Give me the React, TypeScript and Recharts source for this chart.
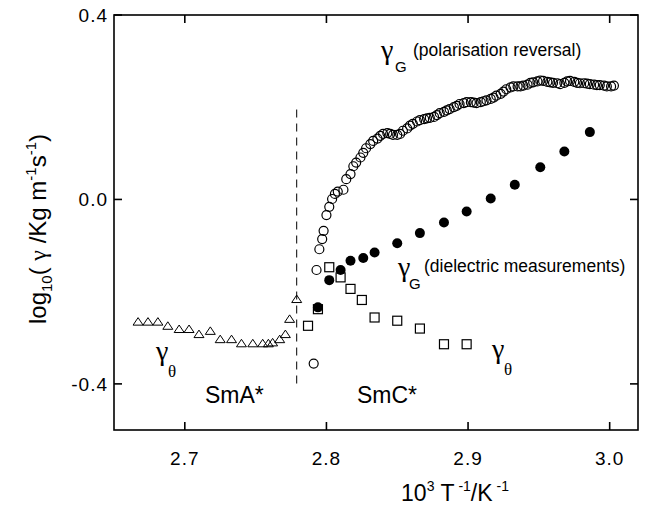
import React from 'react';
import {
  ScatterChart,
  Scatter,
  XAxis,
  YAxis,
  ReferenceLine
} from 'recharts';

// gamma_theta in the SmA* phase (open triangles)
const smaT = [2.667, 2.674, 2.681, 2.688, 2.696, 2.703, 2.710, 2.718, 2.725, 2.733, 2.740, 2.748, 2.755, 2.759, 2.762, 2.767, 2.771, 2.774, 2.779];
const smaGamma = [-0.265, -0.265, -0.265, -0.274, -0.281, -0.281, -0.292, -0.285, -0.303, -0.303, -0.312, -0.312, -0.312, -0.312, -0.310, -0.303, -0.292, -0.259, -0.216];

// gamma_theta in SmC* (open squares)
const thetaT = [2.787, 2.794, 2.802, 2.810, 2.817, 2.825, 2.834, 2.850, 2.866, 2.883, 2.899];
const thetaGamma = [-0.274, -0.238, -0.147, -0.169, -0.194, -0.218, -0.256, -0.263, -0.280, -0.314, -0.314];

// gamma_G, dielectric measurements (filled circles)
const dielT = [2.794, 2.802, 2.810, 2.817, 2.826, 2.834, 2.850, 2.866, 2.883, 2.899, 2.916, 2.933, 2.951, 2.968, 2.986];
const dielGamma = [-0.234, -0.175, -0.153, -0.133, -0.127, -0.115, -0.095, -0.073, -0.050, -0.026, 0.002, 0.032, 0.070, 0.104, 0.146];

// gamma_G, polarisation reversal (open circles)
const polT = [
  2.791, 2.793, 2.795, 2.797, 2.798, 2.800, 2.802, 2.804,
  2.806, 2.808, 2.812, 2.814, 2.817, 2.819, 2.821, 2.824, 2.826, 2.828,
  2.831, 2.833, 2.836, 2.838, 2.840, 2.843, 2.845, 2.847, 2.850, 2.852,
  2.854, 2.857, 2.859, 2.861, 2.864, 2.866, 2.869, 2.871, 2.873, 2.876,
  2.878, 2.880, 2.883, 2.885, 2.887, 2.890, 2.892, 2.894, 2.897, 2.899,
  2.902, 2.904, 2.906, 2.909, 2.911, 2.913, 2.916, 2.918, 2.920, 2.923,
  2.925, 2.927, 2.930, 2.932, 2.935, 2.937, 2.939, 2.942, 2.944, 2.946,
  2.949, 2.951, 2.953, 2.956, 2.958, 2.960, 2.963, 2.965, 2.968, 2.970,
  2.972, 2.975, 2.977, 2.979, 2.982, 2.984, 2.986, 2.989, 2.991, 2.993,
  2.996, 2.998, 3.001, 3.003
];
const polGamma = [
  -0.356, -0.153, -0.108, -0.086, -0.068, -0.034, -0.016, 0.001,
  0.012, 0.017, 0.021, 0.044, 0.055, 0.072, 0.080, 0.091, 0.101, 0.111,
  0.120, 0.127, 0.132, 0.138, 0.142, 0.144, 0.142, 0.140, 0.140, 0.142,
  0.149, 0.154, 0.160, 0.164, 0.169, 0.172, 0.174, 0.176, 0.177, 0.179,
  0.183, 0.187, 0.190, 0.193, 0.196, 0.200, 0.203, 0.207, 0.209, 0.211,
  0.211, 0.210, 0.209, 0.211, 0.213, 0.215, 0.218, 0.221, 0.225, 0.229,
  0.234, 0.239, 0.243, 0.245, 0.245, 0.245, 0.247, 0.249, 0.253, 0.254,
  0.256, 0.258, 0.257, 0.255, 0.254, 0.253, 0.252, 0.250, 0.253, 0.256,
  0.257, 0.255, 0.253, 0.252, 0.252, 0.251, 0.250, 0.249, 0.248, 0.248,
  0.247, 0.245, 0.245, 0.247
];

const xTicks = [2.7, 2.8, 2.9, 3.0];
const yTicks = [-0.4, 0.0, 0.4];
const xDomain: [number, number] = [2.65, 3.02];
const yDomain: [number, number] = [-0.5, 0.4];
const transitionT = 2.779;

const W = 649;
const H = 507;
const M = { top: 15, right: 11, bottom: 0, left: 0 };
const Y_AXIS_W = 114;
const X_AXIS_H = 77;
const PLOT_X = M.left + Y_AXIS_W;
const PLOT_Y = M.top;
const PLOT_W = W - M.left - M.right - Y_AXIS_W;
const PLOT_H = H - M.top - M.bottom - X_AXIS_H;
const TICK_PX = 8;

// same linear mapping the chart uses, only for the frame and tick marks
const fx = (v: number) => PLOT_X + ((v - xDomain[0]) / (xDomain[1] - xDomain[0])) * PLOT_W;
const fy = (v: number) => PLOT_Y + ((yDomain[1] - v) / (yDomain[1] - yDomain[0])) * PLOT_H;

const zip = (xs: number[], ys: number[]) => xs.map((x, i) => ({ x, y: ys[i] }));

const smaData = zip(smaT, smaGamma);
const thetaData = zip(thetaT, thetaGamma);
const dielData = zip(dielT, dielGamma);
const polData = zip(polT, polGamma);

const SANS = '"Liberation Sans", Arial, sans-serif';
const SERIF = '"Liberation Serif", "Times New Roman", serif';

const OpenCircle = (p: any) => (
  <circle cx={p.cx} cy={p.cy} r={4.5} fill="none" stroke="#000" strokeWidth={1.2} />
);
const FilledCircle = (p: any) => (
  <circle cx={p.cx} cy={p.cy} r={5} fill="#000" stroke="none" />
);
const OpenSquare = (p: any) => (
  <rect x={p.cx - 4.5} y={p.cy - 4.5} width={9} height={9} fill="#fff" stroke="#000" strokeWidth={1.2} />
);
const OpenTriangle = (p: any) => (
  <path
    d={`M${p.cx - 5},${p.cy + 3.5} L${p.cx + 5},${p.cy + 3.5} L${p.cx},${p.cy - 4} Z`}
    fill="none"
    stroke="#000"
    strokeWidth={1}
  />
);

const tickStyle = { fontFamily: SANS, fontSize: 19, fill: '#000', letterSpacing: 1 };

function Frame() {
  return (
    <g stroke="#000" strokeWidth={1.6} fill="none">
      <rect x={PLOT_X} y={PLOT_Y} width={PLOT_W} height={PLOT_H} />
      {xTicks.map((t) => (
        <g key={`x${t}`}>
          <line x1={fx(t)} x2={fx(t)} y1={PLOT_Y + PLOT_H} y2={PLOT_Y + PLOT_H - TICK_PX} />
          <line x1={fx(t)} x2={fx(t)} y1={PLOT_Y} y2={PLOT_Y + TICK_PX} />
        </g>
      ))}
      {yTicks.map((t) => (
        <g key={`y${t}`}>
          <line x1={PLOT_X} x2={PLOT_X + TICK_PX} y1={fy(t)} y2={fy(t)} />
          <line x1={PLOT_X + PLOT_W} x2={PLOT_X + PLOT_W - TICK_PX} y1={fy(t)} y2={fy(t)} />
        </g>
      ))}
    </g>
  );
}

function Annotations() {
  return (
    <svg
      width={W}
      height={H}
      style={{ position: 'absolute', left: 0, top: 0, pointerEvents: 'none' }}
    >
      <Frame />

      {/* gamma_G polarisation reversal */}
      <text x={381} y={59} fontFamily={SERIF} fontSize={28}>γ</text>
      <text x={395} y={72} fontFamily={SANS} fontSize={15}>G</text>
      <text x={413} y={56} fontFamily={SANS} fontSize={17.5}>(polarisation reversal)</text>

      {/* gamma_G dielectric */}
      <text x={398} y={276} fontFamily={SERIF} fontSize={28}>γ</text>
      <text x={409} y={289} fontFamily={SANS} fontSize={15}>G</text>
      <text x={424} y={272} fontFamily={SANS} fontSize={17.5}>(dielectric measurements)</text>

      {/* gamma_theta labels */}
      <text x={492} y={358} fontFamily={SERIF} fontSize={28}>γ</text>
      <text x={504} y={375} fontFamily={SERIF} fontSize={17}>θ</text>
      <text x={156} y={360} fontFamily={SERIF} fontSize={28}>γ</text>
      <text x={168} y={377} fontFamily={SERIF} fontSize={17}>θ</text>

      {/* phases */}
      <text x={205} y={403} fontFamily={SANS} fontSize={23}>SmA*</text>
      <text x={357} y={403} fontFamily={SANS} fontSize={23}>SmC*</text>

      {/* axis titles */}
      <text
        transform="translate(46,229) rotate(-90)"
        textAnchor="middle"
        fontFamily={SANS}
        fontSize={24}
      >
        log<tspan fontSize={15} dy={6}>10</tspan>
        <tspan dy={-6}>( </tspan>
        <tspan fontFamily={SERIF}>γ</tspan>
        <tspan> /Kg m</tspan>
        <tspan fontSize={15} dy={-10}>-1</tspan>
        <tspan dy={10}>s</tspan>
        <tspan fontSize={15} dy={-10}>-1</tspan>
        <tspan dy={10}>)</tspan>
      </text>
      <text x={455} y={501} textAnchor="middle" fontFamily={SANS} fontSize={23}>
        10<tspan fontSize={14} dy={-10}>3</tspan>
        <tspan dy={10}> T</tspan>
        <tspan fontSize={14} dy={-10}> -1</tspan>
        <tspan dy={10}>/K</tspan>
        <tspan fontSize={14} dy={-10}> -1</tspan>
      </text>
    </svg>
  );
}

export default function App() {
  return (
    <div style={{ position: 'absolute', left: 0, top: 0, width: W, height: H, background: '#fff' }}>
      <ScatterChart width={W} height={H} margin={M}>
        <XAxis
          xAxisId="b"
          type="number"
          dataKey="x"
          domain={xDomain}
          ticks={xTicks}
          allowDataOverflow
          height={X_AXIS_H}
          axisLine={false}
          tickLine={false}
          tickSize={-TICK_PX}
          tickMargin={30}
          tickFormatter={(v: number) => v.toFixed(1)}
          tick={tickStyle}
        />
        <YAxis
          yAxisId="l"
          type="number"
          dataKey="y"
          domain={yDomain}
          ticks={yTicks}
          allowDataOverflow
          width={Y_AXIS_W}
          axisLine={false}
          tickLine={false}
          tickSize={-TICK_PX}
          tickMargin={14}
          tickFormatter={(v: number) => v.toFixed(1)}
          tick={tickStyle}
        />
        <ReferenceLine
          xAxisId="b"
          yAxisId="l"
          segment={[{ x: transitionT, y: 0.195 }, { x: transitionT, y: -0.4 }]}
          stroke="#000"
          strokeDasharray="8 6"
          strokeWidth={1}
          ifOverflow="visible"
        />
        <Scatter xAxisId="b" yAxisId="l" data={smaData} shape={OpenTriangle} isAnimationActive={false} />
        <Scatter xAxisId="b" yAxisId="l" data={polData} shape={OpenCircle} isAnimationActive={false} />
        <Scatter xAxisId="b" yAxisId="l" data={thetaData} shape={OpenSquare} isAnimationActive={false} />
        <Scatter xAxisId="b" yAxisId="l" data={dielData} shape={FilledCircle} isAnimationActive={false} />
      </ScatterChart>
      <Annotations />
    </div>
  );
}
